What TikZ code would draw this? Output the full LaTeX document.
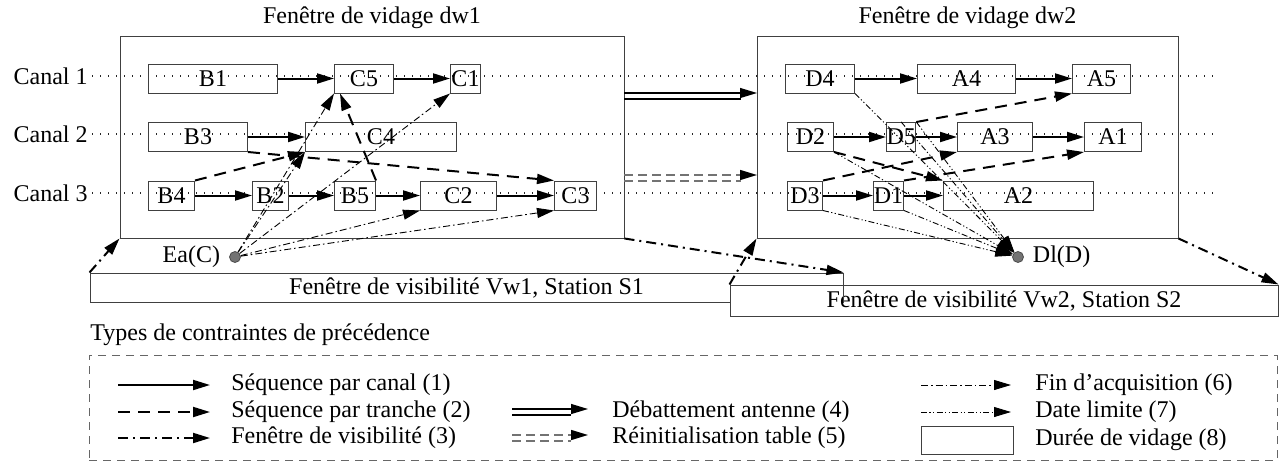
\documentclass[tikz,border=0pt]{standalone}
\usepackage{fontspec}
\setmainfont{Liberation Serif}
\usetikzlibrary{arrows.meta,positioning}

\tikzstyle{vidage} = [rectangle, draw=black!75, line width=0.5pt, inner sep=0pt, minimum height=14.5pt]
\tikzstyle{fenetre} = [rectangle, draw=black!75, line width=0.5pt, inner sep=0pt]
\tikzstyle{date} = [circle, draw=black!70, fill=black!55, inner sep=0pt, minimum size=5.5pt]
\tikzstyle{canal} = [black!85, line width=0.6pt, dash pattern=on 0.7pt off 3.3pt]
\tikzstyle{seqcanal} = [->, line width=1pt]
\tikzstyle{seqtranche} = [->, line width=1pt, dash pattern=on 6pt off 4pt]
\tikzstyle{visib} = [->, line width=1pt, dash pattern=on 5pt off 2.5pt on 1pt off 2.5pt]
\tikzstyle{acquis} = [->, line width=0.45pt, dash pattern=on 3.5pt off 1.5pt on 0.8pt off 1.5pt]
\tikzstyle{limite} = [->, line width=0.45pt, dash pattern=on 3pt off 1.2pt on 0.6pt off 1.2pt on 0.6pt off 1.2pt]
\tikzstyle{antenne} = [line width=0.6pt]
\tikzstyle{reinit} = [black!55, line width=0.7pt, dash pattern=on 4.5pt off 2.5pt]
\tikzstyle{legende} = [anchor=west, inner sep=0pt]

\begin{document}
\begin{tikzpicture}[x=0.5pt,y=-0.5pt,>={Triangle[length=8.5pt,width=5pt]},font=\fontsize{12}{14}\selectfont]
  \useasboundingbox (0,0) rectangle (1282,472);

  % canaux
  \node[anchor=east, inner sep=2pt] (canal1) at (92,76) {Canal 1};
  \node[anchor=east, inner sep=2pt] (canal2) at (92,134) {Canal 2};
  \node[anchor=east, inner sep=2pt] (canal3) at (92,193) {Canal 3};
  \coordinate (fin1) at (1215,76);
  \coordinate (fin2) at (1215,134);
  \coordinate (fin3) at (1215,193);
  \draw[canal] (canal1) -- (fin1);
  \draw[canal] (canal2) -- (fin2);
  \draw[canal] (canal3) -- (fin3);

  % fenetres de vidage
  \node[fenetre, minimum width=252pt, minimum height=101pt] (dw1) at (372,137) {};
  \node[above=0pt of dw1] (titre1) {Fenêtre de vidage dw1};
  \node[fenetre, minimum width=210.5pt, minimum height=101pt] (dw2) at (967.5,137) {};
  \node[above=0pt of dw2] (titre2) {Fenêtre de vidage dw2};

  % vidages dw1
  \node[vidage, anchor=west, minimum width=64.5pt] (B1) at (148,78.5) {B1};
  \node[vidage, anchor=west, minimum width=29.5pt] (C5) at (334,78.5) {C5};
  \node[vidage, anchor=west, minimum width=15pt] (C1) at (450,78.5) {C1};
  \node[vidage, anchor=west, minimum width=49.5pt] (B3) at (148,137) {B3};
  \node[vidage, anchor=west, minimum width=75.5pt] (C4) at (305,137) {C4};
  \node[vidage, anchor=west, minimum width=23pt] (B4) at (148,195.5) {B4};
  \node[vidage, anchor=west, minimum width=18pt] (B2) at (252,195.5) {B2};
  \node[vidage, anchor=west, minimum width=20.5pt] (B5) at (334,195.5) {B5};
  \node[vidage, anchor=west, minimum width=38pt] (C2) at (420,195.5) {C2};
  \node[vidage, anchor=west, minimum width=21pt] (C3) at (554,195.5) {C3};

  % vidages dw2
  \node[vidage, anchor=west, minimum width=34.5pt] (D4) at (785,78.5) {D4};
  \node[vidage, anchor=west, minimum width=49pt] (A4) at (917,78.5) {A4};
  \node[vidage, anchor=west, minimum width=29pt] (A5) at (1072,78.5) {A5};
  \node[vidage, anchor=west, minimum width=23pt] (D2) at (787,137) {D2};
  \node[vidage, anchor=west, minimum width=14pt] (D5) at (886,137) {D5};
  \node[vidage, anchor=west, minimum width=37.5pt] (A3) at (957,137) {A3};
  \node[vidage, anchor=west, minimum width=28.5pt] (A1) at (1084,137) {A1};
  \node[vidage, anchor=west, minimum width=17.5pt] (D3) at (787,195.5) {D3};
  \node[vidage, anchor=west, minimum width=15pt] (D1) at (873,195.5) {D1};
  \node[vidage, anchor=west, minimum width=75pt] (A2) at (943,195.5) {A2};

  % dates
  \node[date] (Ea) at (235,257) {};
  \node[left=1pt of Ea] (EaL) {Ea(C)};
  \node[date] (Dl) at (1018,257) {};
  \node[right=1pt of Dl] (DlL) {Dl(D)};

  % fenetres de visibilite
  \node[fenetre, minimum width=376.5pt, minimum height=14.5pt] (vw1) at (466.5,287.5) {Fenêtre de visibilité Vw1, Station S1};
  \node[fenetre, fill=white, minimum width=274pt, minimum height=15.5pt] (vw2) at (1004,300.5) {Fenêtre de visibilité Vw2, Station S2};
  \draw[black!75, line width=0.5pt] (vw1.north east) -- (vw1.south east);

  % sequences par canal
  \path (B1) edge[seqcanal] (C5)
        (C5) edge[seqcanal] (C1)
        (B3) edge[seqcanal] (C4)
        (B4) edge[seqcanal] (B2)
        (B2) edge[seqcanal] (B5)
        (B5) edge[seqcanal] (C2)
        (C2) edge[seqcanal] (C3)
        (D4) edge[seqcanal] (A4)
        (A4) edge[seqcanal] (A5)
        (D2) edge[seqcanal] (D5)
        (D5) edge[seqcanal] (A3)
        (A3) edge[seqcanal] (A1)
        (D3) edge[seqcanal] (D1)
        (D1) edge[seqcanal] (A2);

  % sequences par tranche
  \path (B4.north east) edge[seqtranche] (C4.south west)
        (B3.south east) edge[seqtranche] (C3.north west)
        (B5.north east) edge[seqtranche] ([xshift=3pt]C5.south west)
        (D5.north east) edge[seqtranche] (A5.south west)
        (D3.north east) edge[seqtranche] (A3.south west)
        (D1.north east) edge[seqtranche] (A1.south west)
        (D2.south east) edge[seqtranche] (A2.north west);

  % fin d'acquisition
  \path (Ea) edge[acquis] (C5.south west)
        (Ea) edge[acquis] (C4.south west)
        (Ea) edge[acquis] (C1.south west)
        (Ea) edge[acquis] (C2.south west)
        (Ea) edge[acquis] (C3.south west);

  % date limite
  \path (D4.south east) edge[limite] (Dl)
        (D5.north) edge[limite] (Dl)
        (D5.north east) edge[limite] (Dl)
        (D2.south east) edge[limite] (Dl)
        (D1.south east) edge[limite] (Dl)
        (D3.south east) edge[limite] (Dl);

  % visibilite
  \path (vw1.north west) edge[visib] (dw1.south west)
        (dw1.south east) edge[visib] (vw1.north east)
        (vw2.north west) edge[visib] (dw2.south west)
        (dw2.south east) edge[visib] (vw2.north east);

  % debattement antenne et reinitialisation table
  \coordinate (ant1) at (624,93);
  \coordinate (ant2) at (757,93);
  \coordinate (ant3) at (624,99);
  \coordinate (ant4) at (741,99);
  \draw[antenne, ->] (ant1) -- (ant2);
  \draw[antenne] (ant3) -- (ant4);
  \coordinate (ini1) at (624,175);
  \coordinate (ini2) at (757,175);
  \coordinate (ini3) at (624,181);
  \coordinate (ini4) at (741,181);
  \draw[reinit, -{Triangle[length=8.5pt,width=5pt,color=black]}] (ini1) -- (ini2);
  \draw[reinit] (ini3) -- (ini4);

  % legende
  \node[legende] (types) at (90,335) {Types de contraintes de précédence};
  \node[rectangle, draw=black!60, line width=0.5pt, dash pattern=on 4pt off 3pt,
        minimum width=594pt, minimum height=52.5pt] (cadre) at (683,407.5) {};

  \node[legende] (l1) at (231,385) {Séquence par canal (1)};
  \node[legende] (l2) at (231,412) {Séquence par tranche (2)};
  \node[legende] (l3) at (231,438) {Fenêtre de visibilité (3)};
  \node[legende] (l4) at (612,412) {Débattement antenne (4)};
  \node[legende] (l5) at (612,438) {Réinitialisation table (5)};
  \node[legende] (l6) at (1035,385) {Fin d’acquisition (6)};
  \node[legende] (l7) at (1035,412) {Date limite (7)};
  \node[legende] (l8) at (1035,440) {Durée de vidage (8)};

  \coordinate (k1) at (118,385);
  \coordinate (k2) at (118,412);
  \coordinate (k3) at (118,438);
  \path (k1) edge[seqcanal, shorten >=10.5pt] (l1)
        (k2) edge[seqtranche, shorten >=10.5pt] (l2)
        (k3) edge[visib, shorten >=10.5pt] (l3);

  \coordinate (k4) at (512,409);
  \coordinate (k4a) at (588,409);
  \coordinate (k4b) at (512,415);
  \coordinate (k4c) at (571,415);
  \draw[antenne, ->] (k4) -- (k4a);
  \draw[antenne] (k4b) -- (k4c);
  \coordinate (k5) at (512,435);
  \coordinate (k5a) at (588,435);
  \coordinate (k5b) at (512,441);
  \coordinate (k5c) at (571,441);
  \draw[reinit, -{Triangle[length=8.5pt,width=5pt,color=black]}] (k5) -- (k5a);
  \draw[reinit] (k5b) -- (k5c);

  \coordinate (k6) at (921,385);
  \coordinate (k7) at (921,412);
  \path (k6) edge[acquis, shorten >=12pt] (l6)
        (k7) edge[limite, shorten >=12pt] (l7);
  \node[vidage, minimum width=46pt, minimum height=14pt] (k8) at (967,440) {};
\end{tikzpicture}
\end{document}
